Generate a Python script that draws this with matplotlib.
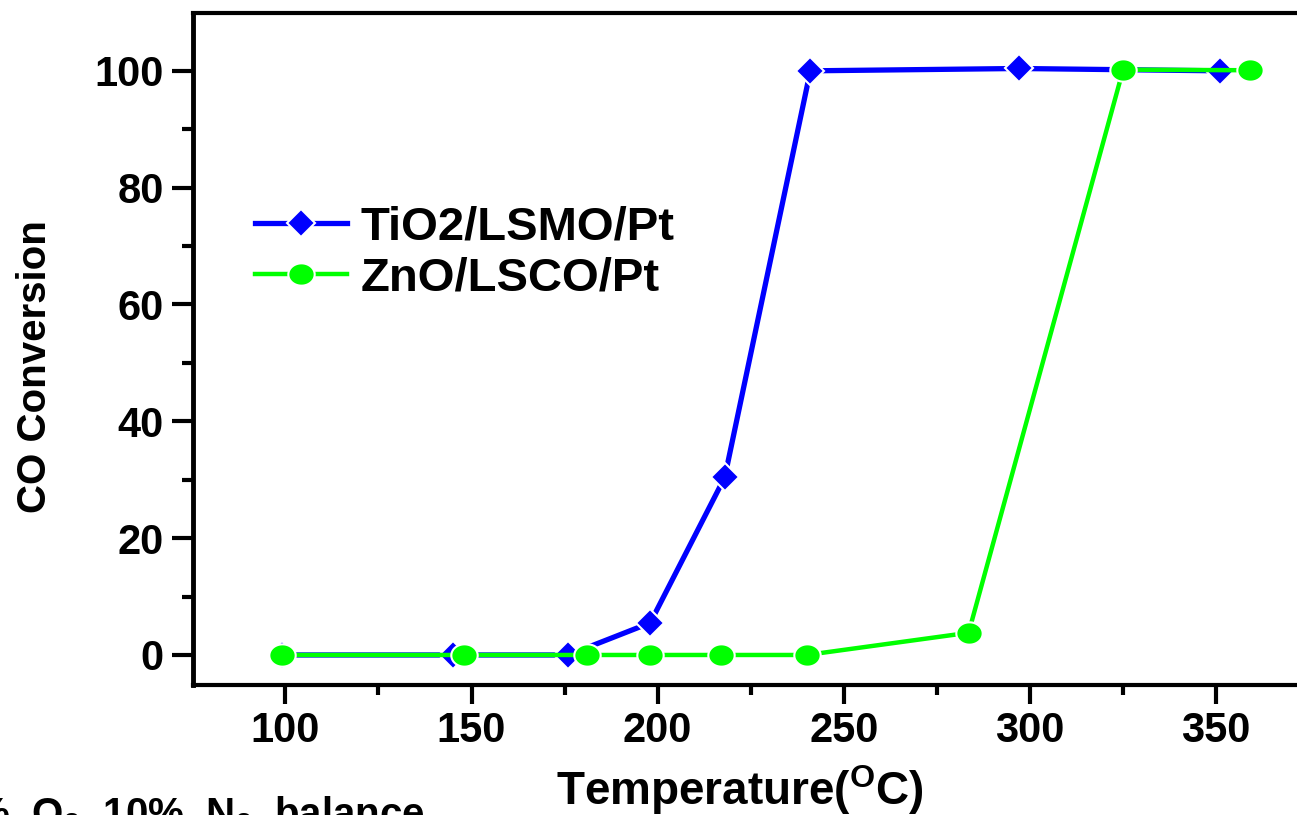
import numpy as np
import matplotlib
matplotlib.use("Agg")
import matplotlib.pyplot as plt
from matplotlib.path import Path

# --- Data ---
temp_tio2 = [99, 145, 176, 198, 218, 241, 297, 351]
conv_tio2 = [0, 0, 0, 5.5, 30.4, 100, 100.4, 100]
temp_zno = [99, 148, 181, 198, 217, 240, 283.5, 325, 359]
conv_zno = [0, 0, 0, 0, 0, 0, 3.8, 100.2, 100.1]

x_ticks = [100, 150, 200, 250, 300, 350]
y_ticks = [0, 20, 40, 60, 80, 100]

# --- Style ---
plt.rcParams["font.family"] = ["Liberation Sans", "DejaVu Sans"]
plt.rcParams["font.weight"] = "bold"
plt.rcParams["mathtext.fontset"] = "custom"
plt.rcParams["mathtext.rm"] = "Liberation Sans:bold"
plt.rcParams["mathtext.it"] = "Liberation Sans:bold"
plt.rcParams["mathtext.bf"] = "Liberation Sans:bold"

# slightly wide ellipse marker like the original
t = np.linspace(0, 2 * np.pi, 64)
ellipse = Path(np.column_stack([1.18 * np.cos(t), np.sin(t)]), closed=True)

fig = plt.figure(figsize=(12.97, 8.15), dpi=100)
W, H = 1297, 815
ax = fig.add_axes([193 / W, (H - 685) / H, 1 - 193 / W, (685 - 13) / H])

ax.plot(temp_tio2, conv_tio2, color="#0000FF", lw=3.8, marker="D", ms=14,
        mfc="#0000FF", mec="white", mew=1.5, label="TiO2/LSMO/Pt")
ax.plot(temp_zno, conv_zno, color="#00FF00", lw=3.2, marker=ellipse, ms=19,
        mfc="#00FF00", mec="white", mew=1.5, label="ZnO/LSCO/Pt")

ax.set_xlim(75.2, 371.7)
ax.set_ylim(-5.14, 109.9)
ax.set_xticks(x_ticks)
ax.set_yticks(y_ticks)
ax.set_xticks([125, 175, 225, 275, 325], minor=True)
ax.set_yticks([10, 30, 50, 70, 90], minor=True)

ax.spines["right"].set_visible(False)
for s in ["left", "bottom", "top"]:
    ax.spines[s].set_linewidth(3.0)
ax.spines["left"].set_linewidth(3.5)

ax.tick_params(axis="both", which="major", direction="out", length=14, width=3,
               labelsize=30, pad=5)
ax.tick_params(axis="both", which="minor", direction="out", length=7, width=3)
ax.tick_params(axis="y", which="major", length=15, pad=6)
ax.tick_params(axis="y", which="minor", length=8)
for lbl in ax.get_xticklabels() + ax.get_yticklabels():
    lbl.set_fontweight("bold")

ax.legend(loc="upper left", bbox_to_anchor=(255 / W, 1 - 206 / H),
          bbox_transform=fig.transFigure, frameon=False, fontsize=34,
          handlelength=1.95, handletextpad=0.28, labelspacing=0.13,
          borderpad=0, borderaxespad=0, numpoints=1)

fig.text(740 / W, (H - 805) / H, r"Temperature($^{\mathrm{O}}$C)",
         fontsize=33, fontweight="bold", ha="center", va="baseline")
fig.text(35 / W, 1 - 367 / H, "CO Conversion", fontsize=29,
         fontweight="bold", rotation=90, ha="center", va="center")
fig.text(425 / W, (H - 826) / H, r"20%  O$_{2}$  10%  N$_{2}$  balance",
         fontsize=29, fontweight="bold", ha="right", va="baseline")

fig.savefig("out.png", dpi=100)
